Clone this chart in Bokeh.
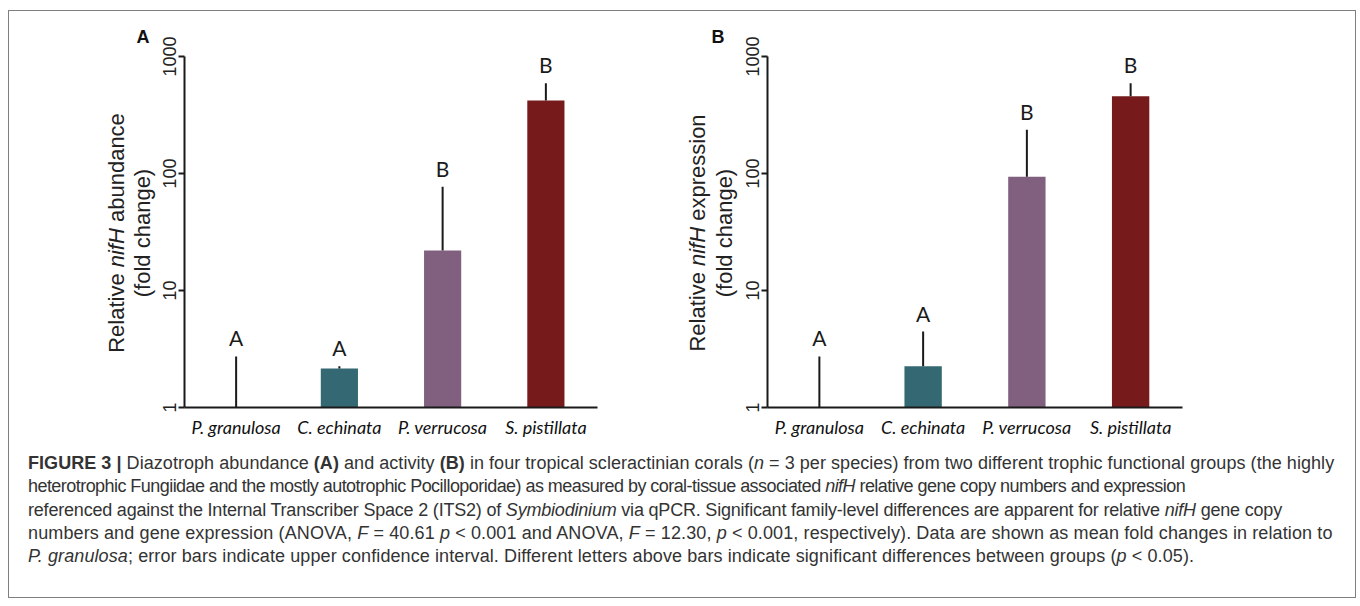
import math
from bokeh.plotting import figure
from bokeh.models import FixedTicker, Range1d, FactorRange, Div, ColumnDataSource
from bokeh.layouts import column, row
from bokeh.core.properties import value
from bokeh.embed import file_html
from bokeh.resources import INLINE

# ---------------- data ----------------
categories = ["P. granulosa", "C. echinata", "P. verrucosa", "S. pistillata"]
bar_colors = ["#ffffff", "#346872", "#81607f", "#761a1b"]

abund_mean = [1.0, 2.15, 22.0, 421.0]
abund_upper = [2.73, 2.25, 77.0, 590.0]
abund_letters = ["A", "A", "B", "B"]

expr_mean = [1.0, 2.25, 94.0, 458.0]
expr_upper = [2.73, 4.46, 236.0, 590.0]
expr_letters = ["A", "A", "B", "B"]

y_ticks = [1, 10, 100, 1000]
y_tick_labels = ["1", "10", "100", "1000"]

caption_lines = [
    '<b>FIGURE 3 |</b> Diazotroph abundance <b>(A)</b> and activity <b>(B)</b> in four tropical '
    'scleractinian corals (<i>n</i> = 3 per species) from two different trophic functional groups (the highly',
    'heterotrophic Fungiidae and the mostly autotrophic Pocilloporidae) as measured by coral-tissue '
    'associated <i>nifH</i> relative gene copy numbers and expression',
    'referenced against the Internal Transcriber Space 2 (ITS2) of <i>Symbiodinium</i> via qPCR. '
    'Significant family-level differences are apparent for relative <i>nifH</i> gene copy',
    'numbers and gene expression (ANOVA, <i>F</i> = 40.61 <i>p</i> &lt; 0.001 and ANOVA, '
    '<i>F</i> = 12.30, <i>p</i> &lt; 0.001, respectively). Data are shown as mean fold changes in relation to',
    '<i>P. granulosa</i>; error bars indicate upper confidence interval. Different letters above bars '
    'indicate significant differences between groups (<i>p</i> &lt; 0.05).',
]
caption_spacing = ["0.05px", "-0.55px", "-0.2px", "0.12px", "0.1px"]

AXIS_FONT = "Liberation Sans"
CAT_FONT = "Lato"
INK = "#1a1a1a"
FIG_H = 434


def make_panel(means, uppers, letters, width, lb, rb):
    src = ColumnDataSource(dict(x=categories, top=means, upper=uppers,
                                letter=letters, color=bar_colors))
    p = figure(x_range=FactorRange(*categories), y_axis_type="log",
               y_range=Range1d(1, 1000), width=width, height=FIG_H,
               min_border_left=lb, min_border_right=rb,
               min_border_top=45, min_border_bottom=38,
               output_backend="svg", toolbar_location=None, title=None)
    p.outline_line_color = None
    p.xgrid.visible = False
    p.ygrid.visible = False
    p.background_fill_color = None
    p.border_fill_color = None

    p.vbar(x="x", top="top", bottom=1, width=0.36, fill_color="color",
           line_color=None, source=src)
    p.segment(x0="x", y0="top", x1="x", y1="upper", line_width=2,
              line_color=INK, source=src)
    p.text(x="x", y="upper", text="letter", source=src,
           text_font=value(CAT_FONT), text_font_size="21px",
           text_align="center", text_baseline="bottom", y_offset=-6,
           text_color=INK)

    ya = p.yaxis[0]
    ya.ticker = FixedTicker(ticks=y_ticks, minor_ticks=[])
    ya.major_label_overrides = {t: l for t, l in zip(y_ticks, y_tick_labels)}
    ya.major_label_orientation = "parallel"
    ya.major_tick_out = 6
    ya.major_tick_in = 0
    ya.minor_tick_out = 0
    ya.minor_tick_in = 0
    ya.major_label_standoff = 3
    ya.axis_line_width = 2
    ya.axis_line_color = INK
    ya.major_tick_line_width = 2
    ya.major_tick_line_color = INK
    ya.major_label_text_font = AXIS_FONT
    ya.major_label_text_font_size = "18px"
    ya.major_label_text_color = "#222222"

    xa = p.xaxis[0]
    xa.major_tick_line_color = None
    xa.minor_tick_line_color = None
    xa.axis_line_width = 2
    xa.axis_line_color = INK
    xa.major_label_standoff = 2
    xa.major_label_text_font = CAT_FONT
    xa.major_label_text_font_style = "italic"
    xa.major_label_text_font_size = "18px"
    xa.major_label_text_color = "#111111"
    return p


def title_div(width, letter, lx, ly, word, x1, x2, cy):
    html = (
        f'<div style="position:relative;width:{width}px;height:{FIG_H}px;'
        f'font-family:\'Liberation Sans\',sans-serif;color:#222;">'
        f'<div style="position:absolute;left:{lx}px;top:{ly}px;transform:translate(-50%,-50%);'
        f'font-weight:bold;font-size:18px;line-height:1;color:#111;">{letter}</div>'
        f'<div style="position:absolute;left:{x1}px;top:{cy}px;'
        f'transform:translate(-50%,-50%) rotate(-90deg);white-space:nowrap;'
        f'font-size:22px;line-height:1;">Relative <i>nifH</i> {word}</div>'
        f'<div style="position:absolute;left:{x2}px;top:{cy}px;'
        f'transform:translate(-50%,-50%) rotate(-90deg);white-space:nowrap;'
        f'font-size:22px;line-height:1;">(fold change)</div>'
        f'</div>'
    )
    return Div(text=html, width=width, height=FIG_H, margin=(0, 0, 0, 0),
               styles={"overflow": "visible"})


tA = title_div(142, "A", 134, 26, "abundance", 108, 134, 222)
pA = make_panel(abund_mean, abund_upper, abund_letters, 489, 33, 43)
tB = title_div(97, "B", 78, 26, "expression", 58, 85, 221.5)
pB = make_panel(expr_mean, expr_upper, expr_letters, 618, 30, 173)

caption_html = (
    '<div style="font-family:\'Liberation Sans\',sans-serif;'
    'font-size:18px;line-height:23.3px;color:#333;white-space:nowrap;'
    'padding:7px 0 0 19px;">'
    + "".join(f'<div style="letter-spacing:{ls};">{ln}</div>'
              for ln, ls in zip(caption_lines, caption_spacing))
    + '</div>'
)
cap = Div(text=caption_html, width=1346, height=152, margin=(0, 0, 0, 0))

layout = column(row(tA, pA, tB, pB), cap,
                styles={"margin-left": "9px", "margin-top": "11px",
                        "outline": "1px solid #7f7f7f"})

open("out.html", "w").write(file_html(layout, INLINE))
